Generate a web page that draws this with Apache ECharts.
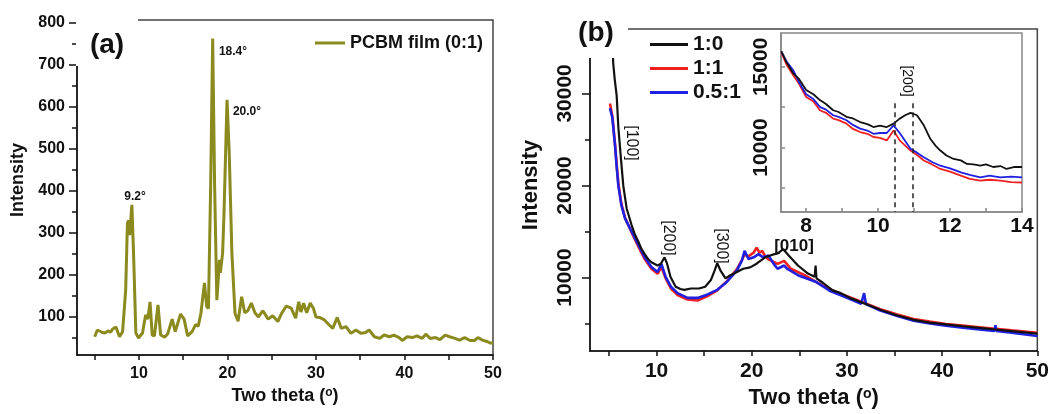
<!DOCTYPE html>
<html>
<head>
<meta charset="utf-8">
<script src="https://cdn.jsdelivr.net/npm/echarts@6/dist/echarts.min.js"></script>
<style>
  html, body { margin: 0; padding: 0; background: #fff; }
  #chart { width: 1052px; height: 414px; }
</style>
</head>
<body>
<div id="chart"></div>
<script>
// ---- panel (a): PCBM film ----
var aTheta = [5.0, 5.3, 5.6, 5.9, 6.2, 6.5, 6.8, 7.0, 7.4, 7.8, 8.15, 8.5, 8.7, 8.85, 8.95, 9.2, 9.4, 9.65, 9.95,
  10.4, 10.75, 10.9, 11.0, 11.25, 11.5, 11.75, 12.15, 12.45, 12.9, 13.25, 13.75, 14.1, 14.7, 15.1, 15.5, 16.0,
  16.4, 16.7, 17.0, 17.4, 17.65, 17.85, 18.1, 18.33, 18.55, 18.8, 19.1, 19.2, 19.45, 19.6, 19.95, 20.2, 20.5,
  20.85, 21.2, 21.6, 21.95, 22.3, 22.7, 23.1, 23.5, 24.0, 24.6, 25.1, 25.3, 25.7, 26.1, 26.65, 27.2, 27.7,
  28.05, 28.3, 28.6, 28.95, 29.35, 29.7, 30.0, 30.4, 30.95, 31.5, 31.9, 32.4, 32.85, 33.4, 33.95, 34.5, 35.1,
  35.6, 36.0, 36.6, 37.2, 37.7, 38.3, 38.8, 39.4, 39.75, 40.3, 40.9, 41.4, 42.0, 42.4, 42.9, 43.5, 44.0, 44.6,
  45.1, 45.7, 46.2, 46.8, 47.4, 47.9, 48.3, 48.8, 49.4, 49.7, 50.0];
var aInt = [53, 69, 66, 63, 62, 67, 64, 71, 76, 53, 65, 164, 324, 330, 295, 367, 244, 62, 50,
  62, 105, 105, 95, 136, 57, 55, 129, 57, 52, 60, 95, 65, 107, 95, 55, 65,
  82, 78, 109, 181, 125, 120, 410, 763, 410, 140, 236, 205, 252, 340, 617, 490, 252,
  109, 90, 148, 110, 115, 133, 110, 100, 115, 95, 103, 105, 89, 108, 126, 121, 97,
  136, 112, 133, 110, 133, 121, 100, 99, 93, 81, 73, 99, 73, 77, 61, 69, 61,
  63, 69, 53, 49, 57, 53, 57, 51, 44, 53, 51, 55, 49, 59, 49, 51, 46, 57,
  53, 49, 45, 51, 44, 44, 51, 45, 41, 38, 38];

// ---- panel (b): main curves ----
var bBlackX = [5.3, 5.43, 5.6, 5.8, 5.98, 6.26, 6.5, 6.85, 7.37, 7.7, 8.06, 8.4, 8.75, 9.1, 9.45, 10.1, 10.45, 10.83,
  11.1, 11.45, 12.0, 12.5, 12.9, 13.6, 14.45, 15.1, 15.7, 16.1, 16.37, 16.7, 17.24, 17.75, 18.44, 19.1, 19.83,
  20.5, 21.4, 22.1, 22.7, 23.3, 23.9, 24.85, 25.9, 26.6, 26.7, 26.8, 27.5, 28.5, 29.35, 30.5, 32.1, 33.5, 35.2,
  37.0, 38.7, 40.4, 42.2, 43.9, 45.6, 47.3, 50.0];
var bBlackY = [40000, 33400, 31500, 29800, 26300, 22800, 19950, 17500, 15700, 14700, 13950, 13100, 12540, 12000, 11660, 11300, 11500, 12190,
  11500, 10070, 9000, 8750, 8660, 8800, 8800, 9000, 9720, 10780, 11550, 10780, 9900, 10240, 10600, 10950, 11100,
  11500, 12190, 12450, 12600, 13070, 12360, 11300, 10420, 10070, 11300, 9900, 9400, 8600, 8300, 7700, 7070, 6500, 5900,
  5400, 5100, 4900, 4700, 4520, 4350, 4180, 3900];

var bRedX = [5.1, 5.35, 5.64, 5.8, 5.98, 6.3, 6.68, 7.37, 8.06, 8.75, 9.45, 10.1, 10.5, 10.95, 11.5, 12.2, 13.25, 14.3,
  15.3, 16.37, 17.4, 18.44, 18.96, 19.24, 19.65, 20.2, 20.5, 20.8, 21.1, 21.4, 21.7, 22.3, 22.7, 23.4, 24.1,
  25.55, 26.7, 28.3, 30.0, 31.77, 33.5, 35.2, 37.0, 38.7, 40.4, 42.16, 43.9, 45.6, 47.3, 50.0];
var bRedY = [28900, 27500, 24400, 22300, 20200, 18000, 16500, 14900, 13400, 12000, 10950, 10400, 11130, 9900, 8800, 8100, 7600, 7500,
  7950, 8600, 9600, 10900, 11900, 12500, 12300, 12700, 13250, 12700, 12900, 12300, 12010, 11700, 11480, 11800, 10950,
  10250, 9540, 8660, 7960, 7250, 6540, 6010, 5480, 5200, 4950, 4780, 4600, 4420, 4250, 4000];

var bBlueX = [5.1, 5.35, 5.64, 5.8, 5.98, 6.3, 6.68, 7.37, 8.06, 8.75, 9.45, 10.1, 10.5, 10.95, 11.5, 12.2, 13.25, 14.3,
  15.3, 16.37, 17.4, 18.44, 18.96, 19.24, 19.65, 20.2, 20.7, 21.2, 21.75, 22.3, 22.7, 23.4, 23.7, 24.85, 26.7,
  28.3, 30.0, 31.5, 31.8, 32.0, 33.5, 35.2, 37.0, 38.7, 40.4, 42.16, 43.9, 45.5, 45.6, 45.7, 47.3, 50.0];
var bBlueY = [28400, 27350, 24200, 22060, 19950, 17830, 16420, 15000, 13600, 12190, 11130, 10600, 11480, 10070, 9000, 8300, 7780, 7780,
  8130, 8660, 9540, 10780, 11830, 12890, 12010, 12190, 12540, 12190, 12400, 11480, 10950, 11300, 10950, 10250, 9540,
  8500, 7800, 7150, 8300, 7100, 6400, 5850, 5300, 5000, 4750, 4550, 4350, 4200, 4800, 4200, 4000, 3650];

// ---- panel (b): inset ----
var inBlackX = [7.31, 7.45, 7.64, 7.8, 8.0, 8.2, 8.38, 8.55, 8.75, 8.9, 9.12, 9.3, 9.5, 9.7, 9.87, 10.05, 10.24, 10.43,
  10.6, 10.75, 10.9, 11.08, 11.27, 11.45, 11.6, 11.73, 11.9, 12.1, 12.3, 12.47, 12.65, 12.84, 13.0, 13.2, 13.4, 13.57, 13.8, 14.0];
var inBlackY = [15960, 15300, 14600, 14250, 13560, 13300, 12940, 12700, 12310, 12200, 11900, 11800, 11580, 11450, 11270, 11350, 11270, 11480,
  11790, 12000, 12150, 12000, 11375, 10540, 10100, 9810, 9500, 9290, 9200, 8980, 8950, 8870, 8950, 8790, 8850, 8670, 8800, 8790];
var inRedX = [7.31, 7.45, 7.64, 7.8, 8.0, 8.2, 8.38, 8.55, 8.75, 8.9, 9.12, 9.3, 9.5, 9.7, 9.87, 10.05, 10.24, 10.43,
  10.6, 10.9, 11.1, 11.27, 11.5, 11.73, 12.0, 12.3, 12.55, 12.84, 13.1, 13.4, 13.7, 14.0];
var inRedY = [15900, 15150, 14480, 13950, 13130, 12850, 12310, 12150, 11790, 11700, 11480, 11150, 10960, 10850, 10650, 10600, 10440, 11060,
  10440, 9810, 9500, 9190, 8950, 8670, 8500, 8250, 8050, 7940, 8000, 7940, 7850, 7830];
var inBlueX = [7.31, 7.45, 7.64, 7.8, 8.0, 8.2, 8.38, 8.55, 8.75, 8.9, 9.12, 9.3, 9.5, 9.7, 9.87, 10.05, 10.24, 10.43,
  10.6, 10.9, 11.1, 11.27, 11.5, 11.73, 12.0, 12.3, 12.55, 12.84, 13.1, 13.4, 13.7, 14.0];
var inBlueY = [15960, 15350, 14790, 14050, 13300, 13000, 12520, 12350, 12000, 11900, 11690, 11400, 11170, 11050, 10850, 10900, 10900, 11375,
  10900, 9920, 9650, 9400, 9100, 8870, 8700, 8460, 8300, 8150, 8250, 8150, 8200, 8150];
var insetDashX = [10.45, 10.95];
var insetDashTop = 12750;

// tick values
var aXTicks = [5, 10, 15, 20, 25, 30, 35, 40, 45, 50];
var aXLabels = [10, 20, 30, 40, 50];
var aYLabels = [100, 200, 300, 400, 500, 600, 700, 800];
var aYMinor = [50, 150, 250, 350, 450, 550, 650, 750];
var bXTicks = [5, 10, 15, 20, 25, 30, 35, 40, 45, 50];
var bXLabels = [10, 20, 30, 40, 50];
var bYLabels = [10000, 20000, 30000];
var bYMinor = [5000, 15000, 25000];
var inXTicks = [8, 9, 10, 11, 12, 13, 14];
var inXLabels = [8, 10, 12, 14];
var inYTicks = [7500, 10000, 12500, 15000];
var inYLabels = [10000, 15000];

function zip(xs, ys) {
  return xs.map(function (x, i) { return [x, ys[i]]; });
}

var FONT = '"Liberation Sans", Arial, sans-serif';
var OLIVE = '#8a8a1e';
var BLACK = '#111111';
var RED = '#ee2020';
var BLUE = '#2020e0';

var chart = echarts.init(document.getElementById('chart'), null, { renderer: 'canvas' });

function lbl(size, extra) {
  var o = { color: '#111', fontFamily: FONT, fontWeight: 'bold', fontSize: size };
  for (var k in extra) o[k] = extra[k];
  return o;
}
function plain(v) { return String(v); }

var option = {
  backgroundColor: '#fff',
  animation: false,
  grid: [
    { left: 77, top: 20, width: 416, height: 335, show: true, borderColor: '#444', borderWidth: 1.5 },
    { left: 590, top: 29, width: 450, height: 331, show: true, borderColor: '#444', borderWidth: 1.5 },
    { left: 781, top: 33, width: 241, height: 179, show: true, borderColor: '#888', borderWidth: 1.5, backgroundColor: '#fff' }
  ],
  legend: [
    {
      data: ['PCBM film (0:1)'], left: 310, top: 27, icon: 'rect', itemWidth: 30, itemHeight: 3, itemGap: 5,
      textStyle: lbl(18, { lineHeight: 22 })
    },
    {
      data: ['1:0', '1:1', '0.5:1'], orient: 'vertical', left: 645, top: 28, icon: 'rect',
      itemWidth: 38, itemHeight: 3, itemGap: 1, textStyle: lbl(21, { lineHeight: 23 })
    }
  ],
  xAxis: [
    {
      gridIndex: 0, type: 'value', min: 3, max: 50,
      axisLine: { lineStyle: { color: '#111', width: 1.5 } },
      axisTick: { customValues: aXTicks, length: 5, lineStyle: { color: '#111', width: 1.5 } },
      axisLabel: lbl(16, { customValues: aXLabels, margin: 11, formatter: plain }),
      splitLine: { show: false },
      name: 'Two theta ({s|o})', nameLocation: 'middle', nameGap: 29,
      nameTextStyle: lbl(18, { rich: { s: lbl(12, { verticalAlign: 'top', lineHeight: 12 }) } })
    },
    {
      gridIndex: 1, type: 'value', min: 3, max: 50,
      axisLine: { lineStyle: { color: '#111', width: 1.5 } },
      axisTick: { customValues: bXTicks, length: 5, lineStyle: { color: '#111', width: 1.5 } },
      axisLabel: lbl(21, { customValues: bXLabels, margin: 10, formatter: plain }),
      splitLine: { show: false },
      name: 'Two theta ({s|o})', nameLocation: 'middle', nameGap: 29,
      nameTextStyle: lbl(22, { rich: { s: lbl(14, { verticalAlign: 'top', lineHeight: 14 }) } })
    },
    {
      gridIndex: 2, type: 'value', min: 7.3, max: 14,
      axisLine: { lineStyle: { color: '#888', width: 1.5 } },
      axisTick: { inside: true, customValues: inXTicks, length: 4, lineStyle: { color: '#888', width: 1.5 } },
      axisLabel: lbl(21, { customValues: inXLabels, margin: 4, formatter: plain }),
      splitLine: { show: false }
    }
  ],
  yAxis: [
    {
      gridIndex: 0, type: 'value', min: 9.5, max: 807, position: 'left',
      axisLine: { lineStyle: { color: '#111', width: 1.5 } },
      axisTick: { customValues: aYLabels, length: 8, lineStyle: { color: '#111', width: 1.5 } },
      axisLabel: lbl(16, { customValues: aYLabels, margin: 12, formatter: plain }),
      splitLine: { show: false }
    },
    {
      gridIndex: 0, type: 'value', min: 9.5, max: 807, position: 'left',
      axisLine: { show: false },
      axisTick: { customValues: aYMinor, length: 5, lineStyle: { color: '#111', width: 1.5 } },
      axisLabel: { show: false },
      splitLine: { show: false }
    },
    {
      gridIndex: 1, type: 'value', min: 2000, max: 37000, position: 'left',
      axisLine: { lineStyle: { color: '#111', width: 1.5 } },
      axisTick: { customValues: bYLabels, length: 8, lineStyle: { color: '#111', width: 1.5 } },
      axisLabel: lbl(21, { customValues: bYLabels, rotate: 90, margin: 14, formatter: plain }),
      splitLine: { show: false }
    },
    {
      gridIndex: 1, type: 'value', min: 2000, max: 37000, position: 'left',
      axisLine: { show: false },
      axisTick: { customValues: bYMinor, length: 5, lineStyle: { color: '#111', width: 1.5 } },
      axisLabel: { show: false },
      splitLine: { show: false }
    },
    {
      gridIndex: 2, type: 'value', min: 6000, max: 17100, position: 'left',
      axisLine: { lineStyle: { color: '#888', width: 1.5 } },
      axisTick: { inside: true, customValues: inYTicks, length: 4, lineStyle: { color: '#888', width: 1.5 } },
      axisLabel: lbl(21, { customValues: inYLabels, rotate: 90, margin: 9, formatter: plain }),
      splitLine: { show: false }
    }
  ],
  series: [
    {
      name: 'PCBM film (0:1)', type: 'line', xAxisIndex: 0, yAxisIndex: 0, data: zip(aTheta, aInt),
      showSymbol: false, color: OLIVE, lineStyle: { width: 3, color: OLIVE }
    },
    {
      name: '1:1', type: 'line', xAxisIndex: 1, yAxisIndex: 2, data: zip(bRedX, bRedY), z: 2,
      showSymbol: false, color: RED, lineStyle: { width: 2.6, color: RED }
    },
    {
      name: '0.5:1', type: 'line', xAxisIndex: 1, yAxisIndex: 2, data: zip(bBlueX, bBlueY), z: 3,
      showSymbol: false, color: BLUE, lineStyle: { width: 2.6, color: BLUE }
    },
    {
      name: '1:0', type: 'line', xAxisIndex: 1, yAxisIndex: 2, data: zip(bBlackX, bBlackY), z: 4,
      showSymbol: false, color: BLACK, lineStyle: { width: 2.2, color: BLACK }
    },
    {
      name: '1:1', type: 'line', xAxisIndex: 2, yAxisIndex: 4, data: zip(inRedX, inRedY), z: 2,
      showSymbol: false, color: RED, lineStyle: { width: 1.8, color: RED }
    },
    {
      name: '0.5:1', type: 'line', xAxisIndex: 2, yAxisIndex: 4, data: zip(inBlueX, inBlueY), z: 3,
      showSymbol: false, color: BLUE, lineStyle: { width: 1.8, color: BLUE }
    },
    {
      name: '1:0', type: 'line', xAxisIndex: 2, yAxisIndex: 4, data: zip(inBlackX, inBlackY), z: 4,
      showSymbol: false, color: BLACK, lineStyle: { width: 1.8, color: BLACK },
      markLine: {
        silent: true, symbol: 'none', label: { show: false },
        lineStyle: { type: [5, 4], color: '#222', width: 1.5 },
        data: insetDashX.map(function (x) { return [{ coord: [x, insetDashTop] }, { coord: [x, 6000] }]; })
      }
    }
  ],
  graphic: [
    // panel tag boxes cover the frame corner
    { type: 'rect', z: 50, shape: { x: 76, y: 6, width: 62, height: 60 }, style: { fill: '#fff' } },
    { type: 'text', z: 51, x: 107, y: 45, style: { text: '(a)', fontFamily: FONT, fontWeight: 'bold', fontSize: 28, fill: '#111', align: 'center', verticalAlign: 'middle' } },
    { type: 'rect', z: 50, shape: { x: 589, y: 10, width: 39, height: 48 }, style: { fill: '#fff' } },
    { type: 'text', z: 51, x: 596, y: 33, style: { text: '(b)', fontFamily: FONT, fontWeight: 'bold', fontSize: 28, fill: '#111', align: 'center', verticalAlign: 'middle' } },
    // axis titles
    { type: 'text', z: 51, x: 18, y: 180, rotation: Math.PI / 2, style: { text: 'Intensity', fontFamily: FONT, fontWeight: 'bold', fontSize: 18, fill: '#111', align: 'center', verticalAlign: 'middle' } },
    { type: 'text', z: 51, x: 531, y: 185, rotation: Math.PI / 2, style: { text: 'Intensity', fontFamily: FONT, fontWeight: 'bold', fontSize: 22, fill: '#111', align: 'center', verticalAlign: 'middle' } },
    // peak labels (a)
    { type: 'text', z: 51, x: 135, y: 197, style: { text: '9.2°', fontFamily: FONT, fontWeight: 'bold', fontSize: 12, fill: '#111', align: 'center', verticalAlign: 'middle' } },
    { type: 'text', z: 51, x: 233, y: 52, style: { text: '18.4°', fontFamily: FONT, fontWeight: 'bold', fontSize: 12, fill: '#111', align: 'center', verticalAlign: 'middle' } },
    { type: 'text', z: 51, x: 247, y: 112, style: { text: '20.0°', fontFamily: FONT, fontWeight: 'bold', fontSize: 12, fill: '#111', align: 'center', verticalAlign: 'middle' } },
    // reflection labels (b)
    { type: 'text', z: 51, x: 631, y: 143, rotation: -Math.PI / 2, style: { text: '[100]', fontFamily: FONT, fontSize: 16, fill: '#111', align: 'center', verticalAlign: 'middle' } },
    { type: 'text', z: 51, x: 668, y: 238, rotation: -Math.PI / 2, style: { text: '[200]', fontFamily: FONT, fontSize: 16, fill: '#111', align: 'center', verticalAlign: 'middle' } },
    { type: 'text', z: 51, x: 721, y: 246, rotation: -Math.PI / 2, style: { text: '[300]', fontFamily: FONT, fontSize: 16, fill: '#111', align: 'center', verticalAlign: 'middle' } },
    { type: 'text', z: 51, x: 794, y: 246, style: { text: '[010]', fontFamily: FONT, fontWeight: 'bold', fontSize: 17, fill: '#111', align: 'center', verticalAlign: 'middle' } },
    { type: 'text', z: 51, x: 907, y: 81, rotation: -Math.PI / 2, style: { text: '[200]', fontFamily: FONT, fontSize: 14, fill: '#111', align: 'center', verticalAlign: 'middle' } }
  ]
};

chart.setOption(option);
</script>
</body>
</html>
